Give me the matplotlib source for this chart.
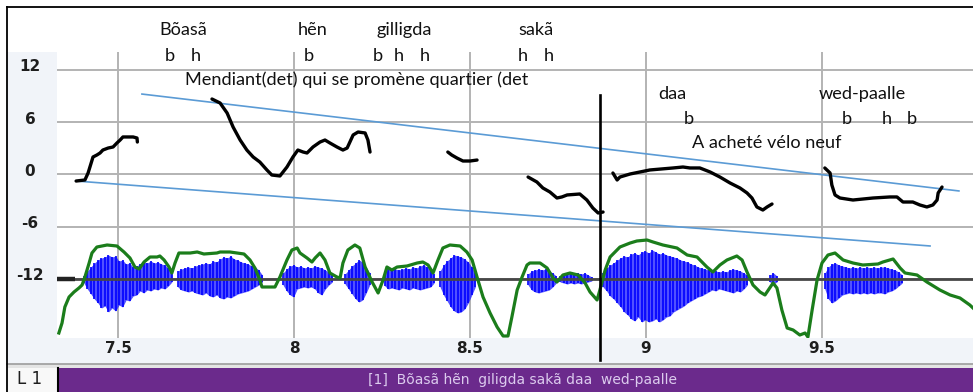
import matplotlib
matplotlib.use("Agg")
import matplotlib.pyplot as plt
import matplotlib.transforms as mtransforms
import numpy as np
from matplotlib.patches import Rectangle
from matplotlib.lines import Line2D

plt.rcParams['font.family'] = ['Lato', 'DejaVu Sans']
NARROW = ['Liberation Sans Narrow', 'DejaVu Sans']

# ---------------- courbe de F0 (demi-tons), par segments voisés ----------------
f0_t1 = [7.381, 7.406, 7.415, 7.429, 7.440, 7.449, 7.457, 7.472, 7.486, 7.497, 7.506, 7.514, 7.543, 7.554, 7.555]
f0_st1 = [-0.75, -0.63, 0.17, 2.01, 2.24, 2.47, 2.81, 3.04, 3.16, 3.62, 3.96, 4.31, 4.31, 4.19, 3.73]

f0_t2 = [7.767, 7.790, 7.810, 7.827, 7.847, 7.866, 7.884, 7.903, 7.923, 7.937, 7.960, 7.980, 7.997, 8.011,
         8.026, 8.037, 8.054, 8.074, 8.088, 8.102, 8.122, 8.139, 8.151, 8.168, 8.182, 8.202, 8.210, 8.216]
f0_st2 = [8.67, 8.21, 7.06, 5.45, 3.96, 2.81, 2.01, 1.43, 0.52, -0.06, -0.17, 0.86, 2.01, 2.81,
          2.58, 2.47, 3.16, 3.73, 3.96, 3.62, 3.16, 2.81, 3.04, 4.54, 4.88, 4.77, 3.96, 2.58]

f0_t3 = [8.437, 8.448, 8.463, 8.480, 8.500, 8.520]
f0_st3 = [2.58, 2.24, 1.89, 1.55, 1.55, 1.66]

f0_t4 = [8.665, 8.690, 8.707, 8.727, 8.747, 8.761, 8.776, 8.812, 8.832, 8.849, 8.864, 8.878]
f0_st4 = [-0.29, -0.86, -1.55, -2.01, -2.70, -2.58, -2.35, -2.24, -2.93, -3.85, -4.42, -4.31]

f0_t5 = [8.906, 8.918, 8.926, 8.955, 8.983, 9.011, 9.077, 9.105, 9.125, 9.153, 9.182, 9.210, 9.239,
         9.267, 9.287, 9.301, 9.315, 9.332, 9.344, 9.358]
f0_st5 = [0.17, -0.63, -0.29, 0.06, 0.29, 0.52, 0.75, 0.86, 0.75, 0.75, 0.29, -0.29, -0.98,
          -1.55, -2.12, -2.70, -3.73, -4.08, -3.73, -3.39]

f0_t6 = [9.508, 9.523, 9.528, 9.537, 9.551, 9.588, 9.645, 9.693, 9.713, 9.730, 9.758, 9.778, 9.798,
         9.815, 9.827, 9.830, 9.841]
f0_st6 = [0.75, 0.17, -1.21, -2.35, -2.70, -2.93, -2.70, -2.58, -2.58, -3.16, -3.16, -3.50, -3.73,
          -3.50, -2.93, -2.12, -1.44]

# lignes de déclinaison (haut / bas)
decl_haut_t = [7.568, 9.889]
decl_haut_st = [9.24, -1.89]
decl_bas_t = [7.381, 9.807]
decl_bas_st = [-0.75, -8.21]

# frontière verticale
frontiere_t = 8.869
frontiere_st = [9.13, -21.3]

# ---------------- intensité (unités arbitraires) ----------------
int_t = [7.332, 7.341, 7.349, 7.361, 7.375, 7.389, 7.398, 7.406, 7.418, 7.426,
         7.440, 7.469, 7.497, 7.517, 7.534, 7.548, 7.560, 7.574, 7.591, 7.611,
         7.619, 7.631, 7.645, 7.653, 7.662, 7.673, 7.705, 7.725, 7.744, 7.781,
         7.790, 7.818, 7.858, 7.875, 7.889, 7.903, 7.909, 7.932, 7.946, 7.960,
         7.980, 7.994, 8.009, 8.017, 8.037, 8.051, 8.060, 8.074, 8.088, 8.102,
         8.122, 8.131, 8.139, 8.153, 8.173, 8.187, 8.202, 8.222, 8.239, 8.253,
         8.264, 8.278, 8.293, 8.321, 8.350, 8.366, 8.381, 8.395, 8.409, 8.423,
         8.443, 8.472, 8.491, 8.506, 8.520, 8.537, 8.557, 8.577, 8.594, 8.608,
         8.619, 8.634, 8.648, 8.662, 8.670, 8.699, 8.719, 8.736, 8.747, 8.764,
         8.784, 8.807, 8.827, 8.841, 8.861, 8.869, 8.884, 8.898, 8.926, 8.955,
         8.974, 9.003, 9.020, 9.048, 9.088, 9.117, 9.145, 9.173, 9.190, 9.210,
         9.230, 9.258, 9.273, 9.287, 9.304, 9.324, 9.338, 9.361, 9.372, 9.386,
         9.401, 9.418, 9.437, 9.452, 9.460, 9.472, 9.486, 9.500, 9.517, 9.537,
         9.560, 9.588, 9.616, 9.659, 9.673, 9.702, 9.722, 9.736, 9.770, 9.798,
         9.835, 9.864, 9.892, 9.920, 9.929]
int_val = [5, 15, 31, 41, 46, 50, 53, 61, 75, 85,
           91, 93, 92, 86, 80, 71, 69, 76, 81, 81,
           82, 78, 71, 65, 75, 85, 85, 86, 84, 85,
           86, 86, 84, 78, 70, 58, 51, 51, 51, 61,
           78, 88, 90, 85, 80, 76, 80, 85, 78, 65,
           61, 60, 75, 88, 93, 90, 71, 56, 45, 58,
           71, 68, 71, 72, 75, 76, 73, 65, 78, 90,
           93, 92, 86, 78, 61, 41, 25, 11, 2, 2,
           21, 48, 61, 73, 75, 75, 70, 60, 56, 63,
           65, 63, 55, 46, 38, 48, 68, 81, 91, 95,
           97, 98, 96, 93, 90, 83, 81, 71, 66, 73,
           78, 82, 78, 66, 53, 46, 43, 55, 50, 28,
           10, 8, 3, 5, 1, 28, 58, 75, 83, 85,
           78, 75, 73, 74, 76, 79, 70, 65, 63, 56,
           48, 43, 40, 33, 30]

# ---------------- signal : crêtes positives / négatives toutes les 10 ms ----------------
onde_debut = [7.403, 7.670, 7.969, 8.145, 8.258, 8.415, 8.665, 8.756, 8.878, 9.352, 9.508]
onde_haut = [
    [3, 8, 12, 16, 19, 21, 22, 24, 22, 23, 18, 19, 15, 16, 12, 13, 15, 17, 16, 18, 16, 17, 15, 14, 11, 5],
    [8, 10, 11, 12, 11, 13, 14, 15, 16, 15, 18, 17, 20, 22, 21, 23, 20, 19, 17, 16, 15, 13, 12, 9, 4],
    [6, 10, 13, 14, 12, 13, 11, 12, 11, 13, 12, 11, 9, 7, 4],
    [5, 9, 13, 16, 19, 17, 12, 6],
    [6, 10, 9, 10, 9, 10, 11, 10, 12, 11, 13, 14, 12, 10, 5],
    [8, 14, 18, 21, 24, 23, 22, 20, 17, 12, 6],
    [5, 8, 9, 10, 9, 10, 8, 6, 3],
    [3, 5, 6, 6, 5, 6, 5, 6, 4, 2],
    [6, 11, 14, 16, 19, 21, 23, 22, 25, 26, 24, 27, 28, 26, 29, 27, 25, 26, 24, 23, 22,
     21, 19, 18, 17, 15, 14, 12, 11, 10, 9, 8, 8, 7, 8, 7, 9, 10, 9, 8, 6, 4],
    [4, 6, 3],
    [6, 12, 15, 16, 14, 13, 12, 11, 12, 11, 12, 11, 12, 11, 12, 11, 12, 12, 11, 10, 9, 7, 4],
]
onde_bas = [
    [-4, -10, -15, -20, -24, -29, -27, -33, -29, -32, -26, -28, -21, -22, -17, -16, -12, -14, -11, -12,
     -10, -11, -9, -10, -7, -3],
    [-8, -11, -12, -13, -12, -14, -15, -16, -14, -17, -18, -16, -19, -20, -18, -19, -17, -15, -14, -13,
     -12, -10, -8, -6, -3],
    [-6, -12, -16, -18, -10, -9, -8, -9, -8, -10, -14, -16, -10, -6, -3],
    [-5, -10, -15, -20, -23, -21, -14, -6],
    [-7, -10, -9, -10, -11, -9, -10, -11, -9, -10, -11, -10, -9, -8, -4],
    [-8, -16, -22, -28, -32, -34, -33, -30, -24, -16, -8],
    [-6, -11, -13, -14, -13, -12, -11, -8, -4],
    [-3, -4, -5, -4, -5, -4, -5, -4, -3, -2],
    [-8, -12, -17, -20, -24, -28, -33, -36, -40, -42, -38, -43, -41, -43, -42, -40, -43, -41, -38, -37,
     -33, -31, -29, -27, -24, -22, -20, -18, -17, -15, -13, -11, -12, -10, -11, -12, -13, -14, -12, -13,
     -10, -6],
    [-3, -5, -3],
    [-10, -20, -24, -22, -19, -16, -15, -14, -15, -14, -15, -14, -15, -14, -15, -14, -14, -15, -13, -12,
     -10, -7, -4],
]
PAS_ONDE = 0.01
ZERO_ONDE = 59

# ---------------- annotations ----------------
mots = ['Bõasã', 'hẽn', 'gilligda', 'sakã', 'daa', 'wed-paalle']
mots_t = [7.685, 8.054, 8.313, 8.688, 9.074, 9.614]
mots_st = [16.02, 16.02, 16.02, 16.02, 8.67, 8.67]

tons = ['b', 'h', 'b', 'b', 'h', 'h', 'h', 'h', 'b', 'b', 'h', 'b']
tons_t = [7.648, 7.722, 8.043, 8.239, 8.298, 8.372, 8.651, 8.725, 9.122, 9.571, 9.685, 9.756]
tons_st = [13.03] * 8 + [5.80] * 4

gloses = ['Mendiant(det) qui se promène quartier (det', 'A acheté vélo neuf']
gloses_t = [7.690, 9.131]
gloses_st = [10.28, 3.04]

yticks = [12, 6, 0, -6, -12]
xticks = [7.5, 8, 8.5, 9, 9.5]
xtick_labels = ['7.5', '8', '8.5', '9', '9.5']
tier_nom = 'L 1'
tier_texte = '[1]  Bõasã hẽn  giligda sakã daa  wed-paalle'

# ---------------- figure ----------------
W, H = 973, 392
fig = plt.figure(figsize=(W / 100, H / 100), dpi=100)
fig.patch.set_facecolor('white')


def fx(px):
    return px / W


def fy(py):
    return 1 - py / H


def boite(x0, y0, x1, y1, couleur, z=-2):
    fig.add_artist(Rectangle((fx(x0), fy(y1)), fx(x1) - fx(x0), fy(y0) - fy(y1),
                             transform=fig.transFigure, facecolor=couleur,
                             edgecolor='none', zorder=z))


def trait(xs, ys, couleur, lw, z=5):
    fig.add_artist(Line2D([fx(x) for x in xs], [fy(y) for y in ys],
                          transform=fig.transFigure, color=couleur, lw=lw, zorder=z))


# panneaux gris clair autour du graphe + barre de tier
boite(7, 52, 57, 364, '#f1f4f9')
boite(7, 338, 973, 364, '#f1f4f9')
boite(7, 364, 973, 368, '#e4e4e4')
boite(7, 368, 58, 392, '#f8f8f8')
boite(58, 368, 973, 392, '#6b2a8c')
trait([7, 973], [364, 364], '#9c9c9c', 1.2)
trait([58, 58], [368, 392], 'black', 1.5)
trait([7, 973], [7, 7], 'black', 1.3)
trait([7, 7], [7, 392], 'black', 1.3)

T0, T1 = 7.3267, 9.929
ST0, ST1 = -18.78, 14.07
rect = [fx(57), fy(338), fx(973) - fx(57), fy(52) - fy(338)]

# grille (demi-tons)
ax = fig.add_axes(rect)
ax.set_xlim(T0, T1)
ax.set_ylim(ST0, ST1)
ax.set_facecolor('white')
for t in xticks:
    ax.axvline(t, color='#b3b3b3', lw=1.4, zorder=0)
for v in yticks:
    ax.axhline(v, color='#b3b3b3', lw=1.4, zorder=0)
ax.set_xticks([])
ax.set_yticks([])
for s in ax.spines.values():
    s.set_visible(False)

# signal + intensité
ax_sig = fig.add_axes(rect, sharex=ax)
ax_sig.set_ylim(0, 286)
ax_sig.set_axis_off()
for debut, haut, bas in zip(onde_debut, onde_haut, onde_bas):
    t = debut + PAS_ONDE * np.arange(len(haut))
    haut = ZERO_ONDE + np.array(haut)
    bas = ZERO_ONDE + np.array(bas)
    ax_sig.fill_between(t, bas, haut, color='#2626ff', alpha=0.8, lw=0)
    ax_sig.vlines(t, bas, haut, color='#0000ff', lw=1.2)
ax_sig.axhline(ZERO_ONDE, color='#474747', lw=2.0)
ax_sig.plot([T0, 7.378], [ZERO_ONDE, ZERO_ONDE], color='#222222', lw=3.2, solid_capstyle='butt')
ax_sig.plot(int_t, int_val, color='#1b7d1b', lw=2.3, solid_joinstyle='round')

# F0, déclinaison, annotations
ax_f0 = fig.add_axes(rect, sharex=ax, sharey=ax)
ax_f0.set_axis_off()
ax_f0.plot(decl_haut_t, decl_haut_st, color='#5b9bd5', lw=1.2)
ax_f0.plot(decl_bas_t, decl_bas_st, color='#5b9bd5', lw=1.2)
for tt, vv in [(f0_t1, f0_st1), (f0_t2, f0_st2), (f0_t3, f0_st3),
               (f0_t4, f0_st4), (f0_t5, f0_st5), (f0_t6, f0_st6)]:
    ax_f0.plot(tt, vv, color='black', lw=2.4, solid_joinstyle='round', solid_capstyle='round')
ax_f0.plot([frontiere_t, frontiere_t], frontiere_st, color='black', lw=1.9, clip_on=False)

txt = dict(color='#111111', fontsize=13.1, va='baseline')
for m, t, v in zip(mots, mots_t, mots_st):
    ax_f0.text(t, v, m, ha='center', **txt)
for m, t, v in zip(tons, tons_t, tons_st):
    ax_f0.text(t, v, m, ha='center', **txt)
for m, t, v in zip(gloses, gloses_t, gloses_st):
    ax_f0.text(t, v, m, ha='left', **txt)

# graduations
ytr = mtransforms.blended_transform_factory(fig.transFigure, ax.transData)
for v in yticks:
    ax.text(fx(30), v + 0.35, str(v), transform=ytr, ha='center', va='center',
            family=NARROW, fontweight='bold', fontsize=11, color='#1e1e1e')
xtr = mtransforms.blended_transform_factory(ax.transData, fig.transFigure)
for t, lab in zip(xticks, xtick_labels):
    ax.text(t, fy(348.5), lab, transform=xtr, ha='center', va='center',
            family=NARROW, fontweight='bold', fontsize=11, color='#1e1e1e')

fig.text(fx(30), fy(379.5), tier_nom, ha='center', va='center', family=NARROW,
         fontsize=12, color='#1e1e1e')
fig.text(fx(522), fy(380), tier_texte, ha='center', va='center', family=NARROW,
         fontsize=10, color='#dccbee')

fig.savefig('out.png', dpi=100)
